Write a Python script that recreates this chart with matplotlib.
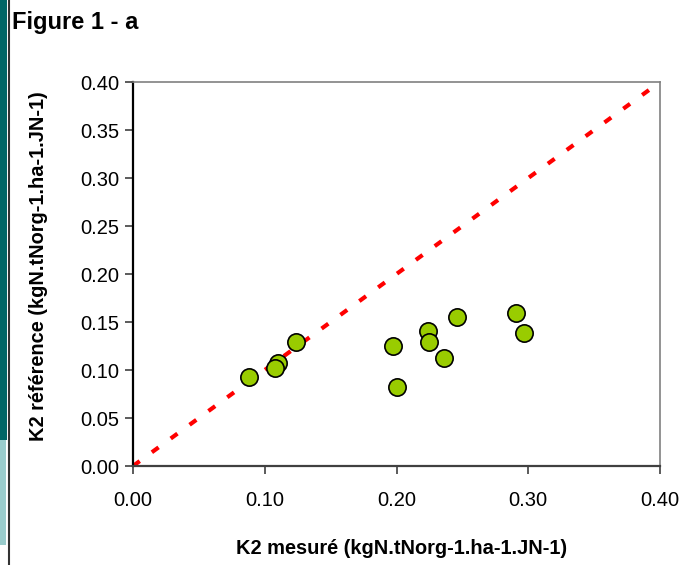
import matplotlib
matplotlib.use("Agg")
import matplotlib.pyplot as plt
from matplotlib.patches import Rectangle
from matplotlib.lines import Line2D

plt.rcParams['font.family'] = ['Liberation Sans', 'DejaVu Sans']

k2_mesure = [0.088, 0.110, 0.108, 0.124, 0.197, 0.200, 0.224, 0.225, 0.236, 0.246, 0.291, 0.297]
k2_reference = [0.093, 0.107, 0.102, 0.129, 0.125, 0.082, 0.141, 0.129, 0.113, 0.155, 0.159, 0.139]
ticks = [0.00, 0.10, 0.20, 0.30, 0.40]
yticks = [0.00, 0.05, 0.10, 0.15, 0.20, 0.25, 0.30, 0.35, 0.40]

W, H = 698, 565
fig = plt.figure(figsize=(W / 100, H / 100), dpi=100)

# decorative left strips
fig.patches.append(Rectangle((0, 1 - 440 / H), 7 / W, 440 / H, transform=fig.transFigure,
                             facecolor='#006666', edgecolor='none'))
fig.patches.append(Rectangle((0, 1 - 545 / H), 6 / W, 105 / H, transform=fig.transFigure,
                             facecolor='#99cccc', edgecolor='none'))
fig.lines.append(Line2D([8.5 / W, 8.5 / W], [0, 1], transform=fig.transFigure,
                        color='#333333', linewidth=1.5))

ax = fig.add_axes([133 / W, 1 - 466 / H, (660 - 133) / W, (466 - 82) / H])

ax.plot([0, 0.4], [0, 0.4], color='#ff0000', linewidth=3.0, linestyle=(0, (2.0, 3.6)),
        dash_capstyle='butt', zorder=2)
ax.scatter(k2_mesure, k2_reference, s=155, facecolor='#99cc00', edgecolor='black',
           linewidth=1.2, zorder=3)

ax.set_xlim(0, 0.4)
ax.set_ylim(0, 0.4)
ax.set_xticks(ticks)
ax.set_xticklabels([f"{t:.2f}" for t in ticks], fontsize=14.5)
ax.set_yticks(yticks)
ax.set_yticklabels([f"{t:.2f}" for t in yticks], fontsize=14.5)
ax.tick_params(axis='both', length=6, width=1.2, color='#404040', pad=4)
ax.tick_params(axis='x', pad=12)

for s in ['top', 'right']:
    ax.spines[s].set_color('#808080')
    ax.spines[s].set_linewidth(1.2)
ax.spines['left'].set_color('black')
ax.spines['left'].set_linewidth(1.6)
ax.spines['bottom'].set_color('#404040')
ax.spines['bottom'].set_linewidth(1.6)

fig.text(402 / W, 1 - 549 / H, 'K2 mesuré (kgN.tNorg-1.ha-1.JN-1)', fontsize=14.4,
         fontweight='bold', ha='center', va='center')
fig.text(39 / W, 1 - 266 / H, 'K2 référence (kgN.tNorg-1.ha-1.JN-1)', fontsize=14.4,
         fontweight='bold', ha='center', va='center', rotation=90)
fig.text(12 / W, 1 - 22 / H, 'Figure 1 - a', fontsize=17, fontweight='bold',
         ha='left', va='center')

fig.savefig('out.png', dpi=100)
